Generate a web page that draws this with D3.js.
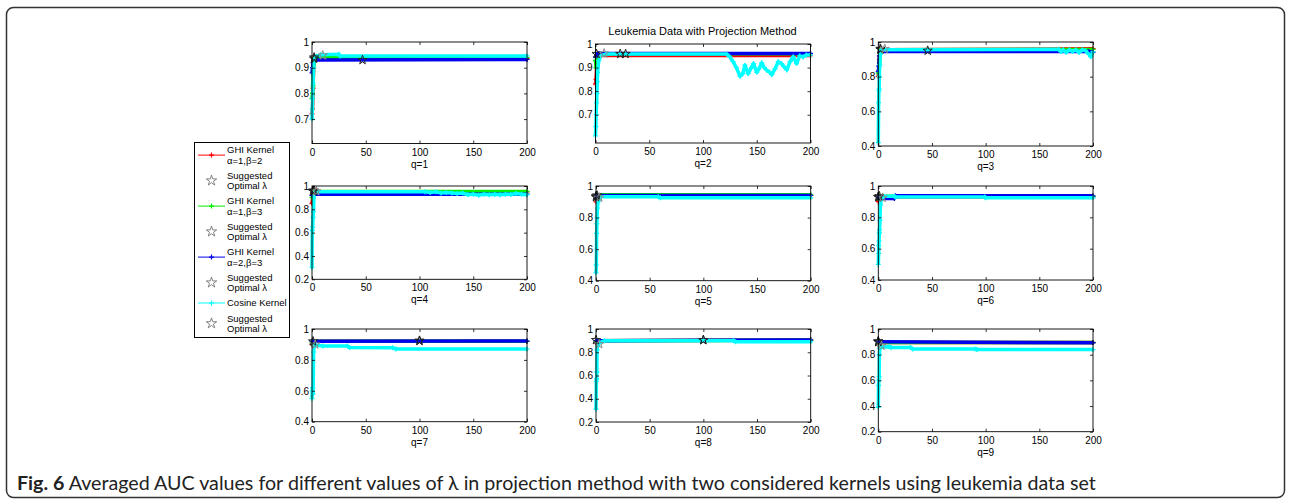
<!DOCTYPE html>
<html><head><meta charset="utf-8">
<script src="https://cdn.jsdelivr.net/npm/d3@7"></script>
<style>
body{margin:0;background:#fff}
svg{display:block}
text{font-family:"Liberation Sans",Arial,Helvetica,sans-serif;fill:#000}
</style>
</head><body>
<svg id="c" width="1292" height="504"></svg>
<script>
// ---------------- DATA ----------------
const chartTitle = "Leukemia Data with Projection Method";
const captionBold = "Fig. 6";
const captionText = " Averaged AUC values for different values of \u03bb in projection method with two considered kernels using leukemia data set";
const panelLabels = ["q=1","q=2","q=3","q=4","q=5","q=6","q=7","q=8","q=9"];
const xTicks = [0, 50, 100, 150, 200];
const yMins = [0.605, 0.58, 0.4, 0.2, 0.4, 0.4, 0.4, 0.2, 0.2];
const yTicksA = [0.7, 0.8, 0.9, 1];
const yTicksB = [0.4, 0.6, 0.8, 1];
const yTicksC = [0.2, 0.4, 0.6, 0.8, 1];
const legendLabels = [
  ["GHI Kernel", "\u03b1=1,\u03b2=2"], ["Suggested", "Optimal \u03bb"],
  ["GHI Kernel", "\u03b1=1,\u03b2=3"], ["Suggested", "Optimal \u03bb"],
  ["GHI Kernel", "\u03b1=2,\u03b2=3"], ["Suggested", "Optimal \u03bb"],
  ["Cosine Kernel"], ["Suggested", "Optimal \u03bb"]
];

// series: [lambda, AUC]
const q1Red   = [[0,0.72],[0.5,0.74],[1,0.82],[1.5,0.9],[2,0.93],[3,0.935],[200,0.935]];
const q1Green = [[0,0.78],[0.5,0.8],[1,0.83],[1.5,0.91],[2,0.935],[3,0.94],[200,0.94]];
const q1Blue  = [[0,0.88],[0.5,0.9],[1,0.92],[2,0.93],[200,0.932]];
const q1Cyan  = [[0,0.70],[0.3,0.74],[0.6,0.78],[1,0.84],[1.5,0.9],[2,0.93],[4,0.945],[8,0.95],[25,0.952],[26,0.946],[200,0.946]];

const q2Red   = [[0,0.83],[0.5,0.85],[1,0.9],[2,0.945],[4,0.951],[200,0.951]];
const q2Green = [[0,0.93],[0.5,0.9],[1,0.93],[2,0.955],[4,0.959],[200,0.959]];
const q2Blue  = [[0,0.945],[1,0.955],[3,0.96],[200,0.96]];
const q2Cyan  = [[0,0.61],[0.3,0.65],[0.6,0.7],[1,0.75],[1.3,0.79],[1.6,0.84],[2,0.88],[3,0.93],[5,0.95],[10,0.958],[122,0.958],[125,0.945],[128,0.925],[131,0.9],[134.5,0.863],[137,0.875],[139,0.91],[142,0.874],[145,0.9],[147,0.917],[150,0.88],[152,0.895],[154.6,0.92],[157,0.9],[159,0.89],[162,0.88],[164,0.87],[167,0.895],[170,0.925],[173,0.917],[175,0.905],[178,0.89],[181,0.925],[184,0.946],[187,0.917],[190,0.95],[193,0.945],[196,0.953],[200,0.953]];

const q3Red   = [[0,0.8],[1,0.9],[2,0.955],[200,0.961]];
const q3Green = [[0,0.82],[1,0.88],[2,0.955],[200,0.957]];
const q3Blue  = [[0,0.83],[0.5,0.86],[1,0.92],[2,0.945],[196,0.945],[200,0.94]];
const q3Cyan  = [[0,0.42],[0.3,0.65],[0.6,0.72],[0.8,0.73],[1,0.8],[1.3,0.87],[2,0.93],[3,0.955],[168,0.958],[170,0.945],[172,0.955],[175,0.94],[178,0.955],[181,0.945],[184,0.955],[187,0.94],[190,0.955],[193,0.95],[196,0.93],[198,0.915],[200,0.945]];

const q4Red   = [[0,0.85],[1,0.93],[2,0.95],[200,0.95]];
const q4Green = [[0,0.9],[1,0.94],[2,0.952],[200,0.953]];
const q4Blue  = [[0,0.92],[1,0.93],[200,0.93]];
const q4Cyan  = [[0,0.3],[0.3,0.62],[0.6,0.65],[1,0.73],[1.3,0.78],[2,0.93],[3,0.95],[105,0.95],[110,0.945],[115,0.95],[120,0.94],[125,0.945],[130,0.94],[135,0.935],[140,0.94],[145,0.925],[150,0.93],[155,0.92],[160,0.93],[165,0.925],[170,0.93],[175,0.925],[180,0.93],[185,0.928],[190,0.935],[195,0.93],[200,0.925]];

const q5Red   = [[0,0.9],[1,0.94],[200,0.94]];
const q5Green = [[0,0.92],[1,0.945],[200,0.945]];
const q5Blue  = [[0,0.92],[1,0.94],[200,0.94]];
const q5Cyan  = [[0,0.45],[0.3,0.5],[0.6,0.7],[0.8,0.76],[1,0.8],[1.3,0.86],[2,0.9],[3,0.925],[4,0.932],[58,0.932],[60,0.925],[200,0.925]];

const q6Red   = [[0,0.9],[1,0.93],[200,0.93]];
const q6Green = [[0,0.92],[1,0.935],[200,0.935]];
const q6Blue  = [[0,0.93],[1,0.921],[15,0.921],[16,0.937],[200,0.937]];
const q6Cyan  = [[0,0.5],[0.3,0.57],[0.5,0.62],[0.7,0.65],[1,0.7],[1.2,0.72],[1.5,0.78],[2,0.88],[3,0.92],[5,0.935],[15,0.935],[16,0.93],[99,0.93],[100,0.925],[200,0.925]];

const q7Red   = [[0,0.9],[1,0.92],[200,0.92]];
const q7Green = [[0,0.91],[1,0.92],[200,0.92]];
const q7Blue  = [[0,0.92],[200,0.922]];
const q7Cyan  = [[0,0.55],[0.3,0.6],[0.6,0.62],[1,0.58],[1.5,0.85],[2,0.89],[3,0.897],[10,0.89],[33,0.89],[35,0.88],[75,0.879],[78,0.87],[200,0.87]];

const q8Red   = [[0,0.88],[1,0.9],[200,0.905]];
const q8Green = [[0,0.89],[1,0.9],[200,0.905]];
const q8Blue  = [[0,0.9],[200,0.906]];
const q8Cyan  = [[0,0.31],[0.3,0.55],[0.6,0.57],[0.8,0.63],[1,0.82],[1.5,0.85],[3,0.88],[8,0.9],[128,0.9],[130,0.89],[200,0.89]];

const q9Red   = [[0,0.88],[1,0.895],[200,0.895]];
const q9Green = [[0,0.885],[1,0.895],[200,0.895]];
const q9Blue  = [[0,0.9],[200,0.893]];
const q9Cyan  = [[0,0.39],[0.3,0.56],[0.6,0.6],[0.8,0.63],[1,0.8],[1.5,0.85],[2,0.86],[10,0.862],[12,0.855],[30,0.855],[32,0.845],[90,0.845],[92,0.84],[200,0.84]];

// suggested optimal lambda per panel: [red, green, blue, cyan] as [lambda, AUC]
const q1Opt = [[2,0.935],[2,0.94],[47,0.93],[10,0.948]];
const q2Opt = [[23,0.958],[28,0.958],[1,0.958],[8,0.96]];
const q3Opt = [[2,0.961],[2,0.957],[46,0.95],[6,0.96]];
const q4Opt = [[1,0.96],[2,0.96],[1,0.955],[4,0.955]];
const q5Opt = [[0,0.935],[1,0.94],[0,0.93],[3,0.927]];
const q6Opt = [[0,0.93],[1,0.935],[0,0.93],[4,0.925]];
const q7Opt = [[1,0.92],[100,0.924],[100,0.924],[3,0.9]];
const q8Opt = [[0,0.905],[100,0.905],[100,0.905],[3,0.87]];
const q9Opt = [[0,0.905],[0,0.9],[0,0.9],[3,0.87]];

// ---------------- BUILD ----------------
const panelSeries = [
  [q1Red,q1Green,q1Blue,q1Cyan],[q2Red,q2Green,q2Blue,q2Cyan],[q3Red,q3Green,q3Blue,q3Cyan],
  [q4Red,q4Green,q4Blue,q4Cyan],[q5Red,q5Green,q5Blue,q5Cyan],[q6Red,q6Green,q6Blue,q6Cyan],
  [q7Red,q7Green,q7Blue,q7Cyan],[q8Red,q8Green,q8Blue,q8Cyan],[q9Red,q9Green,q9Blue,q9Cyan]];
const panelOpt = [q1Opt,q2Opt,q3Opt,q4Opt,q5Opt,q6Opt,q7Opt,q8Opt,q9Opt];
const panelYTicks = [yTicksA,yTicksA,yTicksB,yTicksC,yTicksB,yTicksB,yTicksB,yTicksC,yTicksC];

// layout (pixels)
const frames = [
  [312,42,215,101.5],[595.5,44,215,99],[878.3,42,214.7,104],
  [312,186,215,93.3],[596,186,214.7,94.7],[878.3,186,214.7,94],
  [312,329,215,92.7],[596,329,214.7,93],[878.3,329,214.7,102.7]];
const colors = ["#ff0000","#00ee00","#0000ee","#00ffff"];
const starColors = ["#222","#222","#222","#8a8a8a"];

const svg = d3.select("#c");
svg.append("rect").attr("x",6.5).attr("y",7.5).attr("width",1278).attr("height",490)
  .attr("rx",7).attr("fill","none").attr("stroke","#333").attr("stroke-width",1.5);

const plus = "M-2.5,0H2.5M0,-2.5V2.5";
const star = d3.symbol().type(d3.symbolStar).size(26);
const fmt = d => d === 1 ? "1" : d3.format(".1f")(d);

panelSeries.forEach((series, i) => {
  const [px,py,pw,ph] = frames[i];
  const x = d3.scaleLinear().domain([0,200]).range([px,px+pw]);
  const y = d3.scaleLinear().domain([yMins[i],1]).range([py+ph,py]);
  const g = svg.append("g");
  const line = d3.line().x(d=>x(d[0])).y(d=>y(d[1]));
  series.forEach((s,k) => {
    g.append("path").datum(s).attr("d",line).attr("fill","none")
      .attr("stroke",colors[k]).attr("stroke-width",3.5).attr("stroke-linejoin","round");
    g.selectAll(null).data(s).join("path").attr("d",plus)
      .attr("transform",d=>`translate(${x(d[0])},${y(d[1])})`)
      .attr("stroke",colors[k]).attr("stroke-width",1.3).attr("fill","none");
  });
  g.selectAll(null).data(panelOpt[i]).join("path").attr("d",star)
    .attr("transform",d=>`translate(${x(d[0])},${y(d[1])})`)
    .attr("fill","none").attr("stroke",(d,k)=>starColors[k]).attr("stroke-width",1);

  // axes
  const ax = svg.append("g").attr("font-size",10);
  ax.append("g").attr("transform",`translate(0,${py+ph})`)
    .call(d3.axisBottom(x).tickValues(xTicks).tickSize(-3).tickSizeOuter(0).tickPadding(5));
  ax.append("g").attr("transform",`translate(0,${py})`)
    .call(d3.axisTop(x).tickValues(xTicks).tickSize(-3).tickSizeOuter(0).tickFormat(""));
  ax.append("g").attr("transform",`translate(${px},0)`)
    .call(d3.axisLeft(y).tickValues(panelYTicks[i]).tickSize(-3).tickSizeOuter(0).tickPadding(3).tickFormat(fmt));
  ax.append("g").attr("transform",`translate(${px+pw},0)`)
    .call(d3.axisRight(y).tickValues(panelYTicks[i]).tickSize(-3).tickSizeOuter(0).tickFormat(""));
  ax.selectAll(".domain").remove();
  ax.selectAll("text").attr("font-family","Liberation Sans, Arial, sans-serif").attr("fill","#000");
  ax.selectAll("line").attr("stroke","#000").attr("stroke-width",0.8);
  svg.append("rect").attr("x",px).attr("y",py).attr("width",pw).attr("height",ph)
    .attr("fill","none").attr("stroke","#000").attr("stroke-width",0.9);
  svg.append("text").attr("x",px+pw/2).attr("y",py+ph+24).attr("text-anchor","middle")
    .attr("font-size",10).text(panelLabels[i]);
});

// title
svg.append("text").attr("x",702.5).attr("y",35).attr("text-anchor","middle")
  .attr("font-size",11).text(chartTitle);

// legend
const lg = svg.append("g");
lg.append("rect").attr("x",194.5).attr("y",142.5).attr("width",95).attr("height",195)
  .attr("fill","#fff").attr("stroke","#000").attr("stroke-width",1);
let cy = 150;
legendLabels.forEach((lines, j) => {
  const ys = lines.map((_,k)=>cy + k*10.2);
  const mid = d3.mean(ys);
  lines.forEach((t,k)=>{
    lg.append("text").attr("x",227).attr("y",ys[k]+3.4).attr("font-size",9.5).text(t);
  });
  if (j % 2 === 0) {
    const c = colors[j/2];
    lg.append("line").attr("x1",198).attr("x2",225).attr("y1",mid).attr("y2",mid)
      .attr("stroke",c).attr("stroke-width",1);
    lg.append("path").attr("d",plus).attr("transform",`translate(211.5,${mid})`)
      .attr("stroke",c).attr("stroke-width",1.2);
  } else {
    lg.append("path").attr("d",d3.symbol().type(d3.symbolStar).size(34)).attr("transform",`translate(211.5,${mid})`)
      .attr("fill","none").attr("stroke","#666").attr("stroke-width",0.8);
  }
  cy = ys[ys.length-1] + 15.3;
});

// caption: font size fitted so the line spans the same width as the reference
const cap = svg.append("text").attr("x",17).attr("y",490).attr("font-size",17)
  .style("font-family","Lato,'Open Sans',sans-serif").style("fill","#222");
cap.append("tspan").attr("font-weight","bold").text(captionBold);
cap.append("tspan").text(captionText);
const natural = cap.node().getComputedTextLength();
cap.attr("font-size", 17 * 1080 / natural);
</script>
</body></html>
